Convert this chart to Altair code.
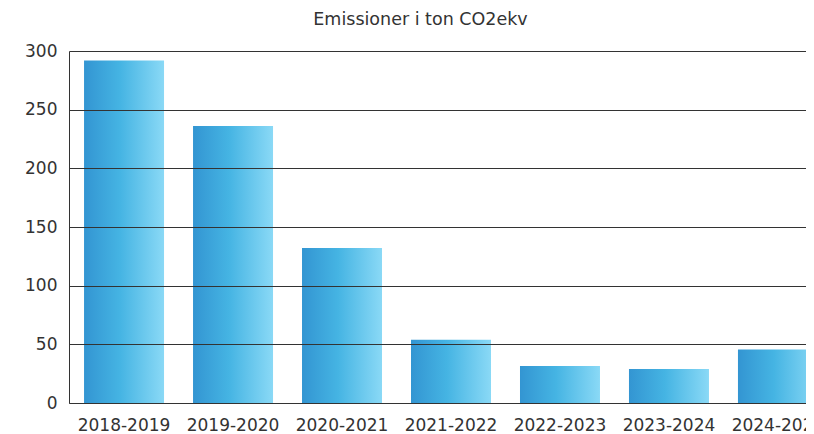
import altair as alt
import pandas as pd

years = ["2018-2019", "2019-2020", "2020-2021", "2021-2022", "2022-2023", "2023-2024", "2024-2025"]
emissions = [292, 236, 132, 54, 31.5, 29, 45.5]
y_ticks = [0, 50, 100, 150, 200, 250, 300]

df = pd.DataFrame({"period": years, "value": emissions})

gradient = alt.LinearGradient(
    gradient="linear",
    stops=[
        alt.GradientStop(color="#3395d2", offset=0),
        alt.GradientStop(color="#45b4e3", offset=0.45),
        alt.GradientStop(color="#8ad9f6", offset=1),
    ],
    x1=0, x2=1, y1=0, y2=0,
)

FONT = "DejaVu Sans"

chart = (
    alt.Chart(df)
    .mark_bar(color=gradient)
    .encode(
        x=alt.X(
            "period:N",
            sort=years,
            scale=alt.Scale(range=[0, 764], paddingInner=0.266, paddingOuter=0.138),
            axis=alt.Axis(
                title=None, labelAngle=0, ticks=False, labelFontSize=17,
                labelColor="#333", labelFont=FONT, labelPadding=14,
                domainColor="#333", labelOverlap=False,
            ),
        ),
        y=alt.Y(
            "value:Q",
            scale=alt.Scale(domain=[0, 300]),
            axis=alt.Axis(
                title=None, values=y_ticks, ticks=False, labelFontSize=17,
                labelColor="#333", labelFont=FONT, labelPadding=12,
                grid=True, gridColor="#333", gridWidth=1, zindex=1,
                domainColor="#333",
            ),
        ),
    )
    .properties(
        width=737,
        height=352,
        title=alt.TitleParams(
            "Emissioner i ton CO2ekv", fontSize=17.5, font=FONT, fontWeight="normal",
            color="#333", offset=14, dx=-17,
        ),
        autosize=alt.AutoSizeParams(type="none"),
        padding={"left": 61, "top": 43, "right": 0, "bottom": 36},
    )
    .configure_view(stroke=None)
)

chart.save("out.html", embed_options={"renderer": "svg", "actions": False})
